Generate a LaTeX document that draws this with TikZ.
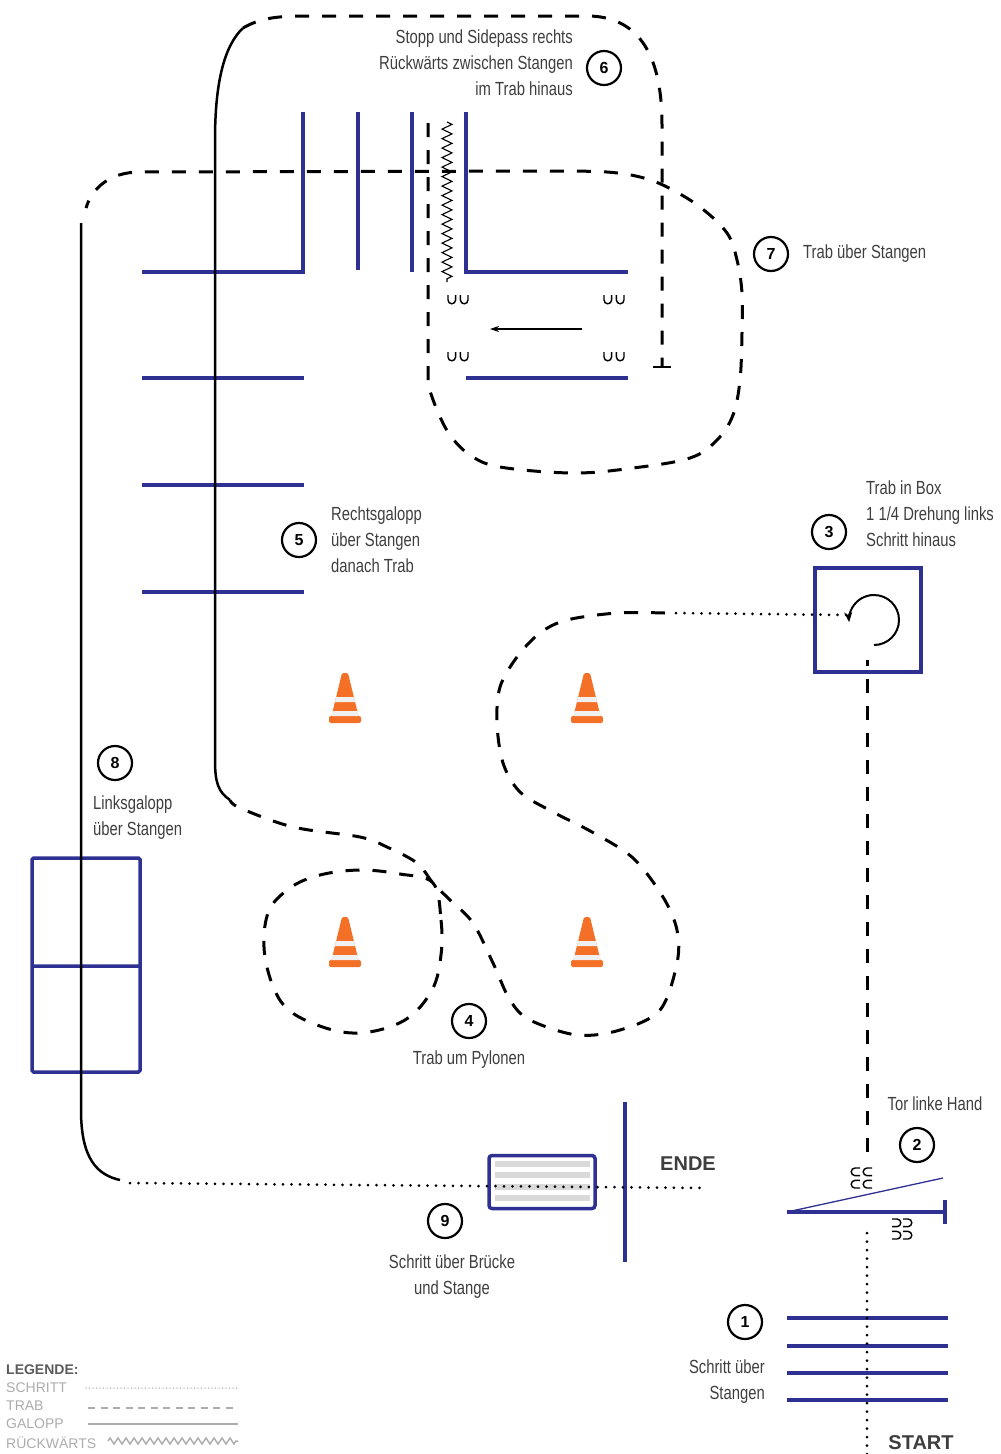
\documentclass[tikz,border=0pt]{standalone}
\usepackage{fontspec}
\setmainfont{Liberation Sans}[FakeStretch=0.78]
\newfontfamily\widefont{Liberation Sans}
\usepackage{xcolor}
\usepackage{tikz}
\usetikzlibrary{arrows.meta}
\usetikzlibrary{decorations.pathmorphing}
\definecolor{polblue}{RGB}{46,49,146}
\definecolor{pylonorange}{RGB}{243,112,38}
\definecolor{ink}{RGB}{62,62,62}
\definecolor{leggray}{RGB}{172,172,172}

\begin{document}
\begin{tikzpicture}[x=1pt, y=-1pt, every node/.style={inner sep=0pt, text=ink},
	lbl/.style={font=\fontsize{19}{26}\selectfont},
	num/.style={circle, draw=black, line width=2.2pt, minimum size=34pt, font=\widefont\bfseries\fontsize{16}{16}\selectfont, text=black},
	big/.style={font=\widefont\bfseries\fontsize{20}{20}\selectfont},
	legtext/.style={anchor=west, text=leggray, font=\widefont\fontsize{14}{14}\selectfont},
	stange/.style={draw=polblue, line width=4.5pt},
	schritt/.style={line width=3pt, line cap=round, dash pattern=on 0pt off 8.5pt},
	trab/.style={line width=3pt, dash pattern=on 14pt off 13pt},
	galopp/.style={line width=2.5pt},
	rueck/.style={line width=1.1pt, decorate, decoration={zigzag, segment length=9.5pt, amplitude=5pt}},
	hoof/.pic={\draw[line width=1.4pt] (-10,-5) -- (-10,0) arc[start angle=180, end angle=0, radius=3.8] -- (-2.4,-5) (2.4,-5) -- (2.4,0) arc[start angle=180, end angle=0, radius=3.8] -- (10,-5);},
	pylon/.pic={
		\fill[pylonorange, rounded corners=1.5pt] (-3,-50) -- (3,-50) -- (14,-5) -- (-14,-5) -- cycle;
		\fill[pylonorange, rounded corners=2pt] (-16,-7) rectangle (16,0);
		\fill[white!88!gray] (-8.9,-26) -- (8.9,-26) -- (10.1,-21) -- (-10.1,-21) -- cycle;
		\fill[white!88!gray] (-12.5,-12) -- (12.5,-12) -- (13.6,-7) -- (-13.6,-7) -- cycle;}]
	\useasboundingbox (0,0) rectangle (1001,1454);
	% Stangen
	\draw[stange] (142,272) -- (303,272) -- (303,112);
	\draw[stange] (358,112) -- (358,270);
	\draw[stange] (412,112) -- (412,272);
	\draw[stange] (466,112) -- (466,272) -- (628,272);
	\draw[stange] (466,378) -- (628,378);
	\foreach \y in {378,485,592} \draw[stange] (142,\y) -- (304,\y);
	\foreach \y in {1318,1346,1373,1400} \draw[stange] (787,\y) -- (948,\y);
	\draw[stange] (625,1102) -- (625,1262);
	\draw[stange, line width=3.5pt, rounded corners=1.5pt] (32,858) rectangle (140,1072) (32,966) -- (140,966);
	% Tor
	\coordinate (gl) at (787,1212);
	\draw[stange, -{Bar[width=24pt]}] (gl) -- (947,1212);
	\draw[polblue, line width=1.3pt] (gl) -- (943,1178);
	% Box und Bruecke
	\node[draw=polblue, line width=4pt, minimum width=106pt, minimum height=104pt] (box) at (868,620) {};
	\foreach \y in {1164,1175,1187,1198} \draw[gray!30, line width=6pt] (495,\y) -- (590,\y);
	\node[draw=polblue, line width=3.5pt, rounded corners=3pt, minimum width=106pt, minimum height=53pt] (bridge) at (542,1182) {};
	% Pylonen und Hufe
	\foreach \p in {(345,723),(587,723),(345,967),(587,967)} \pic at \p {pylon};
	\foreach \p in {(458,300),(614,300),(458,357),(614,357)} \pic at \p {hoof};
	\pic[rotate=-90] at (855,1178) {hoof};
	\pic[rotate=-90] at (867,1178) {hoof};
	\pic[rotate=90] at (897,1229) {hoof};
	\pic[rotate=90] at (908,1229) {hoof};
	% Weg
	\draw[schritt] (867,1454) -- (867,1228);
	\draw[trab] (867,1152) -- (867,660);
	\draw[-{Stealth[length=10pt, width=8pt]}, line width=2pt] (874,645) arc[start angle=90, end angle=-185, radius=25];
	\draw[schritt] (846,615) -- (673,613);
	\draw[trab] plot[smooth, tension=0.55] coordinates {(665,613) (617,613) (567,620) (540,633) (517,657) (500,687) (497,723) (503,763) (520,792) (553,812) (592,832) (633,858) (663,897) (677,930) (677,963) (660,1010) (620,1030) (577,1035) (530,1020) (510,1000) (493,963) (473,923) (450,900) (433,883) (417,863) (387,847) (360,837) (293,827) (240,808) (230,800)};
	\draw[trab] plot[smooth cycle, tension=0.6] coordinates {(433,883) (441,920) (441,955) (432,990) (405,1020) (360,1033) (317,1025) (282,1003) (265,957) (268,913) (290,888) (320,875) (360,870) (400,874)};
	\draw[galopp] (230,800) .. controls (218,792) and (215,782) .. (215,760) -- (215,140) .. controls (215,80) and (225,45) .. (243,28);
	\draw[trab, -{Bar[width=18pt, line width=2.5pt]}] (243,28) .. controls (262,17) and (280,16) .. (310,16) -- (590,16) .. controls (648,18) and (662,70) .. (662,125) -- (662,368);
	\draw[rueck] (447,122) -- (447,282);
	\draw[-{Stealth[length=9pt, width=6pt]}, line width=1.2pt] (582,329) -- (490,329);
	\draw[trab] (428,123) -- plot[smooth, tension=0.6] coordinates {(428,385) (437,410) (450,435) (470,455) (500,467) (573,473) (633,468) (690,458) (717,440) (733,415) (740,380) (742,333) (742,293) (737,260) (727,233) (700,207) (667,187) (640,177) (607,172) (560,171)} -- (140,172) .. controls (110,172) and (92,188) .. (86,208);
	\draw[galopp] (81,223) -- (81,1110) .. controls (81,1160) and (98,1175) .. (120,1180);
	\draw[schritt] (130,1183) -- (705,1188);
	% Nummern
	\node[num] (n1) at (745,1322) {1};
	\node[num] (n2) at (917,1145) {2};
	\node[num] (n3) at (829,532) {3};
	\node[num] (n4) at (469,1021) {4};
	\node[num] (n5) at (299,540) {5};
	\node[num] (n6) at (604,68) {6};
	\node[num] (n7) at (771,254) {7};
	\node[num] (n8) at (115,763) {8};
	\node[num] (n9) at (445,1221) {9};
	% Texte
	\node[lbl, anchor=east, align=right] (t6) at (573,63) {Stopp und Sidepass rechts\\Rückwärts zwischen Stangen\\im Trab hinaus};
	\node[lbl, anchor=west] (t7) at (803,254) {Trab über Stangen};
	\node[lbl, anchor=west, align=left] (t3) at (866,514) {Trab in Box\\1 1/4 Drehung links\\Schritt hinaus};
	\node[lbl, anchor=west, align=left] (t5) at (331,540) {Rechtsgalopp\\über Stangen\\danach Trab};
	\node[lbl, anchor=west, align=left] (t8) at (93,818) {Linksgalopp\\über Stangen};
	\node[lbl] (t4) at (469,1060) {Trab um Pylonen};
	\node[lbl] (t2) at (935,1104) {Tor linke Hand};
	\node[lbl, align=center] (t9) at (452,1277) {Schritt über Brücke\\und Stange};
	\node[lbl, anchor=east, align=right] (t1) at (765,1382) {Schritt über\\Stangen};
	\node[big] (ende) at (688,1164) {ENDE};
	\node[big] (start) at (921,1443) {START};
	% Legende
	\node[legtext, text=ink!85, font=\widefont\bfseries\fontsize{14}{14}\selectfont] (leg) at (6,1370) {LEGENDE:};
	\node[legtext] (lschritt) at (6,1388) {SCHRITT};
	\node[legtext] (ltrab) at (6,1406) {TRAB};
	\node[legtext] (lgalopp) at (6,1424) {GALOPP};
	\node[legtext] (lrueck) at (6,1443) {RÜCKWÄRTS};
	\draw[leggray, line width=1.5pt, line cap=round, dash pattern=on 0pt off 3.5pt] (86,1388) -- (238,1388);
	\draw[leggray, line width=2.5pt, dash pattern=on 7pt off 5.5pt] (88,1408) -- (238,1408);
	\draw[leggray, line width=2.5pt] (88,1424) -- (238,1424);
	\draw[leggray, line width=1.5pt, decorate, decoration={zigzag, segment length=8pt, amplitude=3pt}] (108,1441) -- (238,1441);
\end{tikzpicture}
\end{document}
